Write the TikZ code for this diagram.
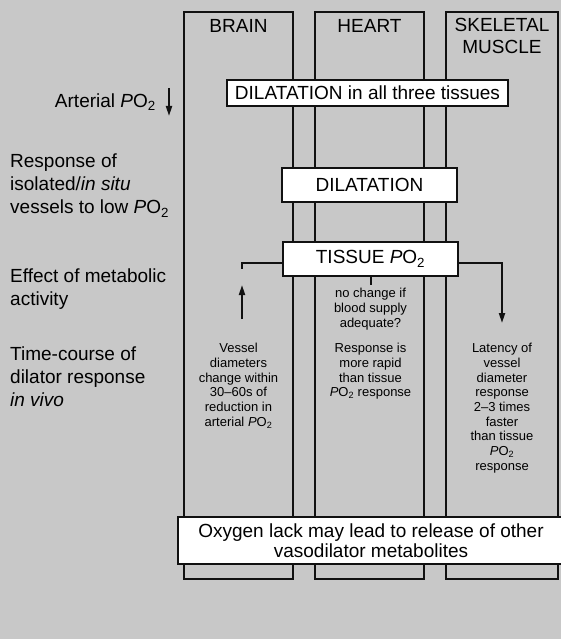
\documentclass[tikz,border=0pt]{standalone}
\usepackage{fontspec}
\setmainfont{Liberation Sans}
\usepackage{tikz}
\usetikzlibrary{positioning,arrows.meta}
\definecolor{halftone}{HTML}{C8C8C8}
\definecolor{ink}{HTML}{111111}
\newcommand{\POtwo}{\textit{P}O\textsubscript{2}}

\begin{document}
\begin{tikzpicture}[
  x=1pt, y=-1pt,
  lane/.style={draw=ink, line width=2pt, anchor=north, minimum height=567pt, inner sep=0pt},
  head/.style={inner sep=0pt, align=center, font=\fontsize{19}{22}\selectfont},
  box/.style={draw=ink, line width=2pt, fill=white, inner sep=0pt, align=center, font=\fontsize{19}{20}\selectfont},
  rowlabel/.style={inner sep=0pt, anchor=north west, align=left, font=\fontsize{19}{23}\selectfont},
  note/.style={inner sep=0pt, anchor=north, align=center, font=\fontsize{13}{14.7}\selectfont},
  link/.style={line width=2pt, color=ink},
  arr/.style={-{Triangle[length=10pt,width=6pt]}, line width=2pt, color=ink}
]
  % Background
  \fill[halftone] (0,0) rectangle (561,639);
  \useasboundingbox (0,0) rectangle (561,639);

  % Tissue columns
  \node[lane, minimum width=109pt] (brain) at (238.5,11) {};
  \node[lane, minimum width=109pt] (heart) at (369.5,11) {};
  \node[lane, minimum width=112pt] (skel) at (502,11) {};

  \node[head, below=8pt of brain.north] (h_brain) {BRAIN};
  \node[head, below=8pt of heart.north] (h_heart) {HEART};
  \node[head, below=7pt of skel.north] (h_skel) {SKELETAL\\MUSCLE};

  % Row labels
  \node[inner sep=0pt, anchor=east, font=\fontsize{19}{23}\selectfont] (art) at (156,102) {Arterial \POtwo};
  \coordinate (art_top) at (169,88);
  \coordinate (art_bot) at (169,116);
  \node[rowlabel] (resp) at (10,154) {Response of\\isolated/\textit{in situ}\\vessels to low \POtwo};
  \node[rowlabel] (effect) at (10,269) {Effect of metabolic\\activity};
  \node[rowlabel] (timec) at (10,347) {Time-course of\\dilator response\\\textit{in vivo}};

  % Boxes across the columns
  \node[box, minimum width=281pt, minimum height=26pt] (all3) at (367.5,93) {DILATATION in all three tissues};
  \node[box, minimum width=175pt, minimum height=34pt] (dil) at (369.5,185) {DILATATION};
  \node[box, minimum width=175pt, minimum height=34pt] (tissue) at (370.5,259) {TISSUE \POtwo};

  % Metabolic effect branches
  \coordinate (l_stub) at (242,269);
  \coordinate (l_foot) at (242,319);
  \coordinate (l_tip) at (242,285);
  \coordinate (m_tick) at (370.5,285);
  \coordinate (r_foot) at (502,323);
  \draw[link] ([yshift=-4pt]tissue.west) -| (l_stub);
  \draw[arr] (l_foot) -- (l_tip);
  \draw[link] (tissue.south) -- (tissue.south |- m_tick);
  \draw[arr] ([yshift=-4pt]tissue.east) -| (r_foot);
  \draw[arr] (art_top) -- (art_bot);

  % Column notes
  \node[note] (n_heart1) at (370.5,288) {no change if\\blood supply\\adequate?};
  \node[note] (n_brain) at (238.5,343) {Vessel\\diameters\\change within\\30--60s of\\reduction in\\arterial \POtwo};
  \node[note] (n_heart2) at (370.5,343) {Response is\\more rapid\\than tissue\\\POtwo{} response};
  \node[note] (n_skel) at (502,343) {Latency of\\vessel\\diameter\\response\\2--3 times\\faster\\than tissue\\\POtwo\\response};

  % Bottom box
  \node[box, minimum width=386pt, minimum height=47pt, anchor=west] (oxy) at (177,540.5) {Oxygen lack may lead to release of other\\vasodilator metabolites};
\end{tikzpicture}
\end{document}
